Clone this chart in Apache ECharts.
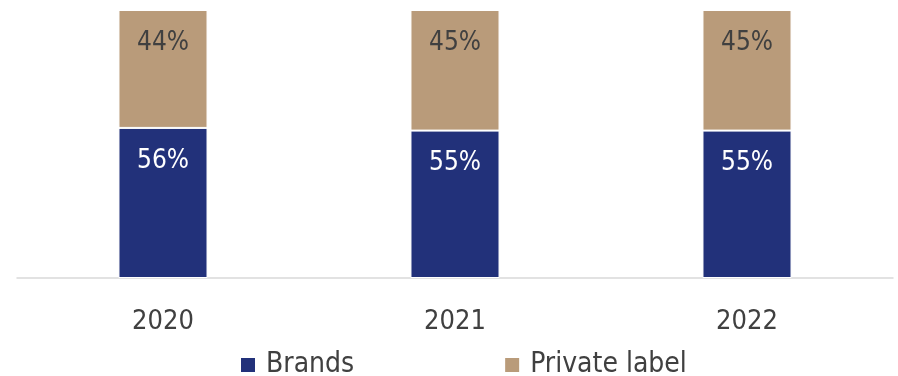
<!DOCTYPE html>
<html>
<head>
<meta charset="utf-8">
<script src="https://cdn.jsdelivr.net/npm/echarts@6/dist/echarts.min.js"></script>
<style>
  html, body { margin: 0; padding: 0; background: #fff; }
  #chart { width: 898px; height: 376px; }
</style>
</head>
<body>
<div id="chart"></div>
<script>
// Share of sales by year, in percent
const years = ['2020', '2021', '2022'];
const brands = [56, 55, 55];
const privateLabel = [44, 45, 45];

const FONT = '"Liberation Sans Narrow", "DejaVu Sans Condensed", "Open Sans", sans-serif';

const chart = echarts.init(document.getElementById('chart'), null, { renderer: 'canvas' });

chart.setOption({
  animation: false,
  grid: { left: 17, right: 5, top: 10, bottom: 98, containLabel: false },
  xAxis: {
    type: 'category',
    data: years,
    axisLine: { lineStyle: { color: '#d9d9d9', width: 1.5 } },
    axisTick: { show: false },
    axisLabel: { fontFamily: FONT, fontSize: 27, color: '#404040', margin: 30 }
  },
  yAxis: {
    type: 'value',
    min: 0,
    max: 100,
    show: false
  },
  legend: {
    top: 346,
    left: 234,
    itemGap: 149,
    itemWidth: 16,
    itemHeight: 16,
    icon: 'rect',
    textStyle: { fontFamily: FONT, fontSize: 28, color: '#404040', padding: [0, 0, 0, 5] },
    data: ['Brands', 'Private label']
  },
  series: [
    {
      name: 'Brands',
      type: 'bar',
      stack: 'share',
      barWidth: '30.5%',
      data: brands,
      itemStyle: { color: '#22317a', borderColor: '#ffffff', borderWidth: 1 },
      label: {
        show: true,
        position: 'insideTop',
        distance: 20,
        formatter: '{c}%',
        fontFamily: FONT,
        fontSize: 26,
        color: '#ffffff'
      }
    },
    {
      name: 'Private label',
      type: 'bar',
      stack: 'share',
      data: privateLabel,
      itemStyle: { color: '#b99b7a', borderColor: '#ffffff', borderWidth: 1 },
      label: {
        show: true,
        position: 'insideTop',
        distance: 20,
        formatter: '{c}%',
        fontFamily: FONT,
        fontSize: 26,
        color: '#404040'
      }
    }
  ]
});
</script>
</body>
</html>
